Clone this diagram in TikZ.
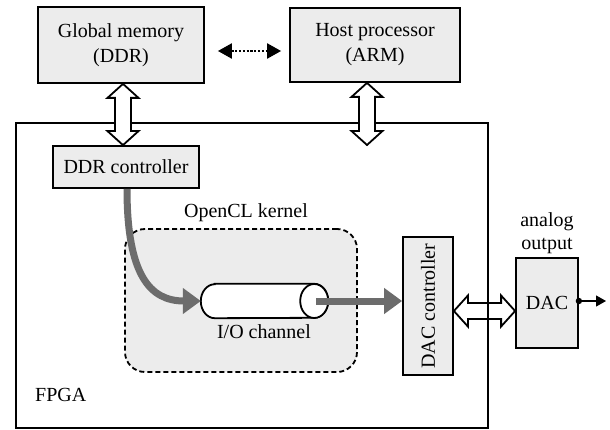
\documentclass[tikz,border=0pt]{standalone}
\usepackage{fontspec}
\setmainfont{Liberation Serif}
\usetikzlibrary{arrows.meta,calc}

\definecolor{flowgray}{RGB}{108,108,108}
\definecolor{boxgray}{RGB}{236,236,236}

\tikzset{
  block/.style={draw, line width=1.8pt, fill=boxgray, align=center, inner sep=0pt,
    font=\fontsize{20}{25}\selectfont},
  lbl/.style={align=center, inner sep=0pt, font=\fontsize{20}{23}\selectfont},
  hollow/.style={draw, line width=1.8pt, fill=white, line join=miter},
  flow/.style={draw=flowgray, line width=7pt,
    -{Triangle[length=18pt,width=25pt]}},
  pipe/.style={draw, line width=1.8pt, fill=white},
}

% hollow double arrow, vertical: x taken from #1, ends at #1 (top) and #2 (bottom)
\newcommand\hollowvert[2]{%
  \path[hollow] let \p1=(#1), \p2=(#2) in
    (\x1,\y1) -- (\x1+15.5pt,\y1-14pt) -- (\x1+8pt,\y1-14pt) -- (\x1+8pt,\y2+14pt)
    -- (\x1+15.5pt,\y2+14pt) -- (\x1,\y2) -- (\x1-15.5pt,\y2+14pt) -- (\x1-8pt,\y2+14pt)
    -- (\x1-8pt,\y1-14pt) -- (\x1-15.5pt,\y1-14pt) -- cycle;}
% hollow double arrow, horizontal: y taken from #1, ends at #1 (left) and #2 (right)
\newcommand\hollowhoriz[2]{%
  \path[hollow] let \p1=(#1), \p2=(#2) in
    (\x1,\y1) -- (\x1+14pt,\y1+15.5pt) -- (\x1+14pt,\y1+8pt) -- (\x2-14pt,\y1+8pt)
    -- (\x2-14pt,\y1+15.5pt) -- (\x2,\y1) -- (\x2-14pt,\y1-15.5pt) -- (\x2-14pt,\y1-8pt)
    -- (\x1+14pt,\y1-8pt) -- (\x1+14pt,\y1-15.5pt) -- cycle;}

\begin{document}
\begin{tikzpicture}[x=1pt,y=-1pt]
\useasboundingbox (0,0) rectangle (610,430);

% external blocks
\node[block, minimum width=166, minimum height=76] (gm) at (121,45) {Global memory\\(DDR)};
\node[block, minimum width=170, minimum height=74] (host) at (375,45) {Host processor\\(ARM)};

% dotted link between memory and host
\draw[line width=2.2pt, dash pattern=on 2.2pt off 1.6pt,
  {Triangle[length=14pt,width=15pt]}-{Triangle[length=14pt,width=15pt]}]
  ([xshift=13pt,yshift=-6pt]gm.east) -- ([xshift=-8pt,yshift=-6pt]host.west);

% DAC side
\node[block, minimum width=50, minimum height=138] (dacc) at (428,306)
  {\rotatebox{90}{DAC controller}};
\node[block, minimum width=62, minimum height=90] (dac) at (547,303) {DAC};
\node[lbl] (ao) at (547,233) {analog\\output};

\coordinate (busL) at ([yshift=-5pt]dacc.east);
\hollowhoriz{busL}{dac.west}

% FPGA outline
\node[draw, line width=1.8pt, minimum width=472, minimum height=305, inner sep=0pt] (fpga) at (252,275.5) {};
\node[lbl, anchor=west] (fpgalbl) at (35,395) {FPGA};

% DDR controller and bus arrows
\node[block, minimum width=146, minimum height=42] (ddrc) at (126,167) {DDR controller};
\hollowvert{[xshift=2pt]gm.south}{ddrc.north}
\coordinate (hostbus) at (367,145);
\hollowvert{[xshift=-8pt]host.south}{hostbus}

% OpenCL kernel region
\node[draw, dash pattern=on 5pt off 3pt, line width=1.8pt, rounded corners=20pt,
  fill=boxgray, minimum width=232, minimum height=143, inner sep=0pt] (kernel) at (241,300.5) {};
\node[lbl] (klbl) at (246,213) {OpenCL kernel};

% I/O channel: a pipe lying on its side, open end to the east
\node[minimum width=127, minimum height=34, inner sep=0pt] (cyl) at (264.5,301) {};
\path[pipe] ([xshift=14pt]cyl.north west) -- ([xshift=-14pt]cyl.north east)
  arc[start angle=90, end angle=-90, x radius=14pt, y radius=17pt]
  -- ([xshift=14pt]cyl.south west)
  arc[start angle=270, end angle=90, x radius=14pt, y radius=17pt] -- cycle;
\path[pipe] ([xshift=-14pt]cyl.east) ellipse[x radius=14pt, y radius=17pt];
\node[lbl] (iolbl) at (264,332) {I/O channel};

% data flow
\draw[flow] ([xshift=1pt]ddrc.south) .. controls (127,275) and (150,301) .. (cyl.west);
\draw[flow] ([xshift=-12pt]cyl.east) -- (dacc.west |- cyl.east);

% analog output
\coordinate (out) at (606,301);
\fill (dac.east |- out) circle (3.2pt);
\draw[line width=1.2pt, -{Triangle[length=10pt,width=11pt]}] (dac.east |- out) -- (out);
\end{tikzpicture}
\end{document}
